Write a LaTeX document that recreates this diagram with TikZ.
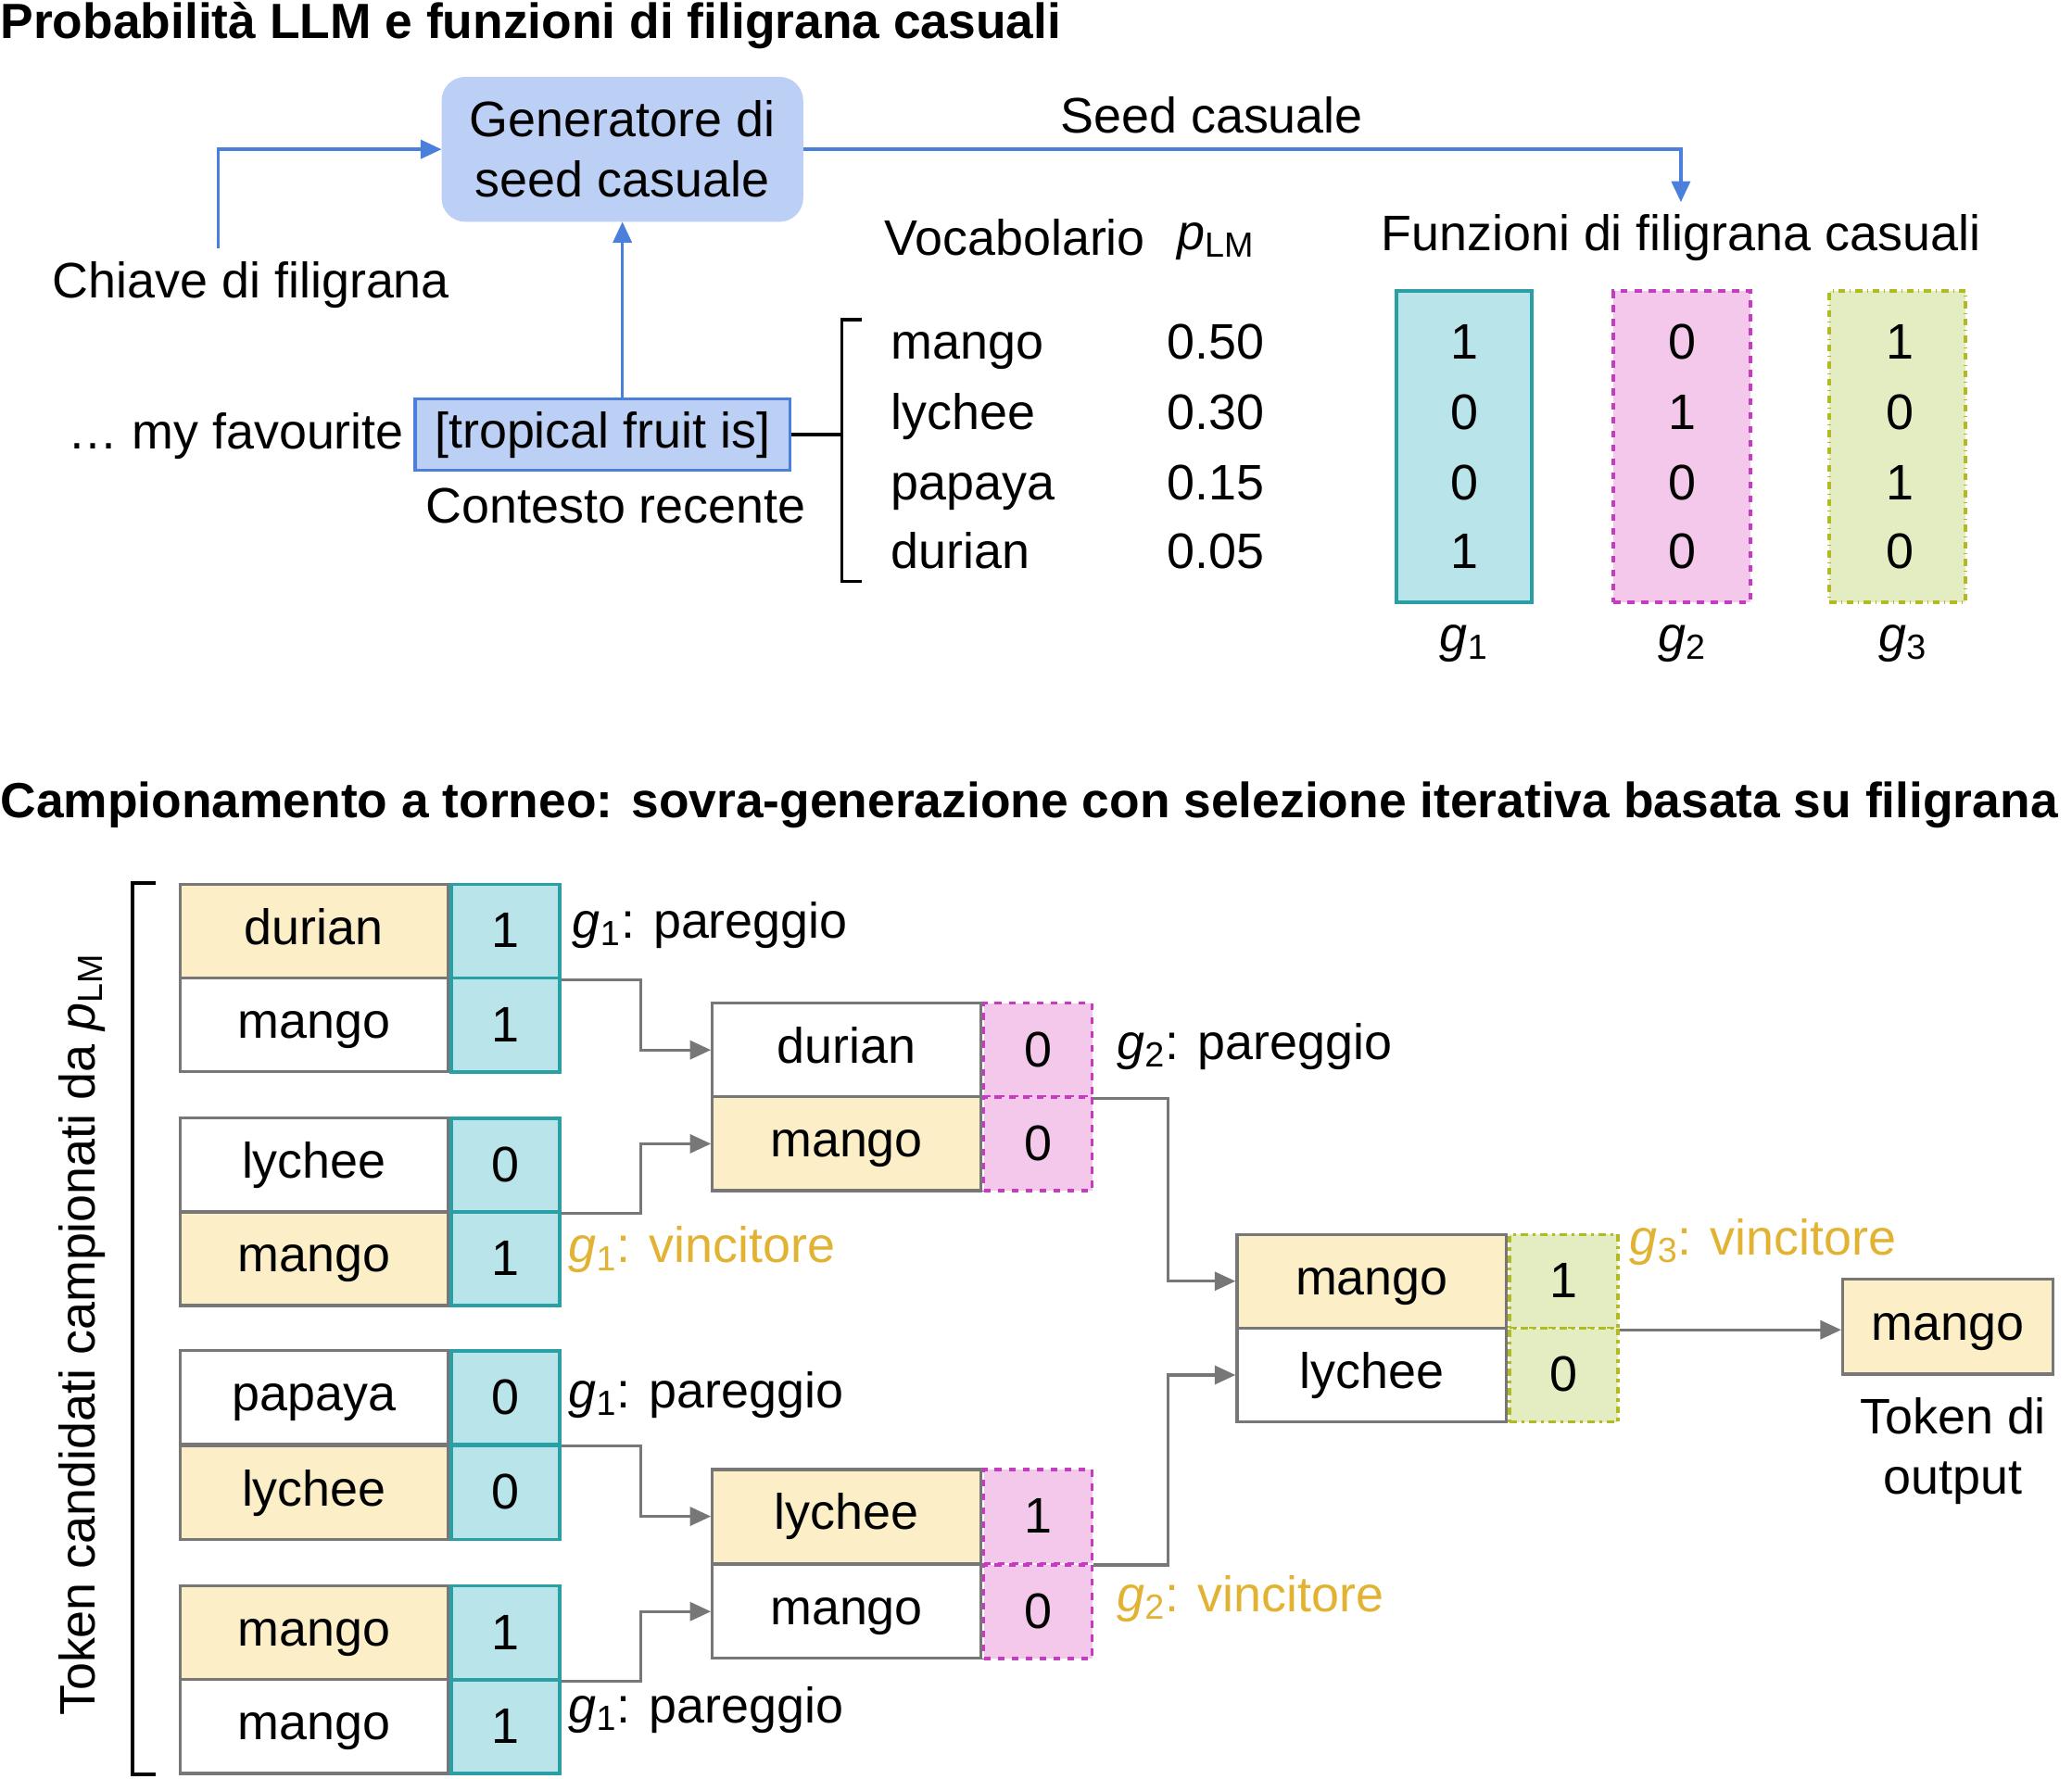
\documentclass[tikz,border=0pt]{standalone}
\usepackage{fontspec}
\setmainfont{Liberation Sans}
\usetikzlibrary{arrows.meta}
\definecolor{bl}{HTML}{4A7FDC}
\definecolor{blf}{HTML}{BCD0F5}
\definecolor{tl}{HTML}{2A9FA5}
\definecolor{tlf}{HTML}{B9E4EA}
\definecolor{mg}{HTML}{C63CC0}
\definecolor{mgf}{HTML}{F4C8EA}
\definecolor{ol}{HTML}{B2BA22}
\definecolor{olf}{HTML}{E4EDC2}
\definecolor{yf}{HTML}{FCEFC8}
\definecolor{yt}{HTML}{E2B232}
\definecolor{gr}{HTML}{777777}
\newcommand\gi[1]{\textit{g}\textsubscript{#1}}
\tikzset{
 every node/.style={font=\fontsize{21.5}{26}\selectfont, inner sep=0pt},
 ttl/.style={font=\fontsize{21.3}{25}\selectfont\bfseries, anchor=west},
 row/.style={text height=0.55cm, text depth=0.15cm},
 ba/.style={draw=bl, line width=1.4pt, -{Triangle[length=9pt,width=8pt]}},
 ga/.style={draw=gr, line width=1.3pt, -{Triangle[length=9pt,width=8pt]}},
 wc/.style={draw=gr, line width=1.3pt, minimum height=1.42cm, anchor=north west, text height=0.55cm, text depth=0.15cm},
 vc/.style={line width=1.4pt, minimum width=1.64cm, minimum height=1.42cm, anchor=north west, text height=0.55cm, text depth=0.05cm},
 v1/.style={vc, draw=tl, fill=tlf},
 v2/.style={vc, draw=mg, fill=mgf, dashed},
 v3/.style={vc, draw=ol, fill=olf, dash dot},
 lab/.style={anchor=west},
 win/.style={anchor=west, text=yt},
}
\begin{document}
\begin{tikzpicture}[x=0.02cm,y=-0.02cm]
\useasboundingbox (0,0) rectangle (1568,1346);
\node[ttl] (t1) at (0,19) {Probabilità LLM e funzioni di filigrana casuali};
\node[draw=blf, fill=blf, rounded corners=10pt, minimum width=5.46cm, minimum height=2.18cm, align=center] (gen) at (471,113) {Generatore di\\seed casuale};
\node (key) at (190,216) {Chiave di filigrana};
\coordinate (k0) at (165,188);
\draw[ba] (k0) |- (gen.west);
\node[draw=bl, fill=blf, line width=1.4pt, minimum width=5.68cm, minimum height=1.08cm, row] (ctx) at (456,329) {[tropical fruit is]};
\node[anchor=east, row] (mf) at (306,330) {… my favourite};
\node (cr) at (466,383) {Contesto recente};
\draw[ba] (ctx.north -| gen.south) -- (gen.south);
\coordinate (sd) at (1272,153);
\draw[ba] (gen.east) -| (sd);
\node (sl) at (917,87) {Seed casuale};
\coordinate (b1) at (652,242); \coordinate (b2) at (652,440);
\coordinate (bm) at (637,329);
\draw[line width=1.4pt] (ctx.east) -- (bm);
\draw[line width=1.4pt] (b1) -- (637,242) -- (637,440) -- (b2);
\node (voc) at (768,180) {Vocabolario};
\node (plm) at (920,183) {\textit{p}\textsubscript{LM}};
\foreach \w/\p/\y in {mango/0.50/262, lychee/0.30/315, papaya/0.15/368, durian/0.05/420}{
 \node[anchor=west, row] (v\w) at (674,\y) {\w};
 \node[row] (p\w) at (920,\y) {\p};}
\node (ff) at (1272,180) {Funzioni di filigrana casuali};
\node[draw=tl, fill=tlf, line width=1.6pt, minimum width=2.06cm, minimum height=4.7cm] (g1) at (1108,338) {};
\node[draw=mg, fill=mgf, dashed, line width=1.6pt, minimum width=2.08cm, minimum height=4.7cm] (g2) at (1273,338) {};
\node[draw=ol, fill=olf, dash dot, line width=1.6pt, minimum width=2.06cm, minimum height=4.7cm] (g3) at (1436,338) {};
\foreach \x/\a/\b/\c/\d/\n in {1108/1/0/0/1/a, 1273/0/1/0/0/b, 1438/1/0/1/0/c}{
 \node[row] (\n1) at (\x,262) {\a}; \node[row] (\n2) at (\x,315) {\b};
 \node[row] (\n3) at (\x,368) {\c}; \node[row] (\n4) at (\x,420) {\d};}
\node (l1) at (1108,487) {\gi1};
\node (l2) at (1273,487) {\gi2};
\node (l3) at (1440,487) {\gi3};
\node[ttl] (t2) at (0,609) {Campionamento a torneo: sovra-generazione con selezione iterativa basata su filigrana};
\coordinate (c1) at (118,668); \coordinate (c2) at (118,1343);
\draw[line width=1.6pt] (c1) -- (100,668) -- (100,1343) -- (c2);
\node[rotate=90] (tc) at (62,1010) {Token candidati campionati da \textit{p}\textsubscript{LM}};
\def\R#1#2#3#4#5#6#7#8{%
 \node[wc, minimum width=#7, fill=#5] (#1w) at (#2,#3) {#4};
 \node[#8] (#1v) at (#1w.north east) {#6};}
\R{a}{135}{668}{durian}{yf}{1}{4.06cm}{v1}
\R{b}{135}{739}{mango}{white}{1}{4.06cm}{v1}
\R{c}{135}{845}{lychee}{white}{0}{4.06cm}{v1}
\R{d}{135}{916}{mango}{yf}{1}{4.06cm}{v1}
\R{e}{135}{1021}{papaya}{white}{0}{4.06cm}{v1}
\R{f}{135}{1093}{lychee}{yf}{0}{4.06cm}{v1}
\R{g}{135}{1199}{mango}{yf}{1}{4.06cm}{v1}
\R{h}{135}{1270}{mango}{white}{1}{4.06cm}{v1}
\node[lab] (la) at (433,700) {\gi1: pareggio};
\node[win] (lb) at (430,946) {\gi1: vincitore};
\node[lab] (lc) at (430,1056) {\gi1: pareggio};
\node[lab] (ld) at (430,1294) {\gi1: pareggio};
\R{i}{538}{758}{durian}{white}{0}{4.06cm}{v2}
\R{j}{538}{829}{mango}{yf}{0}{4.06cm}{v2}
\R{k}{538}{1111}{lychee}{yf}{1}{4.06cm}{v2}
\R{l}{538}{1183}{mango}{white}{0}{4.06cm}{v2}
\node[lab] (le) at (845,792) {\gi2: pareggio};
\node[win] (lf) at (845,1210) {\gi2: vincitore};
\R{m}{935}{933}{mango}{yf}{1}{4.08cm}{v3}
\R{n}{935}{1004}{lychee}{white}{0}{4.08cm}{v3}
\node[win] (lg) at (1233,940) {\gi3: vincitore};
\node[draw=gr, fill=yf, line width=1.3pt, minimum width=3.18cm, minimum height=1.44cm, row] (out) at (1474,1004) {mango};
\node[align=center] (to) at (1478,1098) {Token di\\output};
\draw[ga] (av.south east) -- ++(60,0) |- (iw.west);
\draw[ga] (cv.south east) -- ++(60,0) |- (jw.west);
\draw[ga] (ev.south east) -- ++(60,0) |- (kw.west);
\draw[ga] (gv.south east) -- ++(60,0) |- (lw.west);
\draw[ga] (iv.south east) -- ++(56,0) |- (mw.west);
\draw[ga] (kv.south east) -- ++(56,0) |- (nw.west);
\draw[ga] (mv.south east) -- (out.west |- mv.south east);
\end{tikzpicture}
\end{document}
